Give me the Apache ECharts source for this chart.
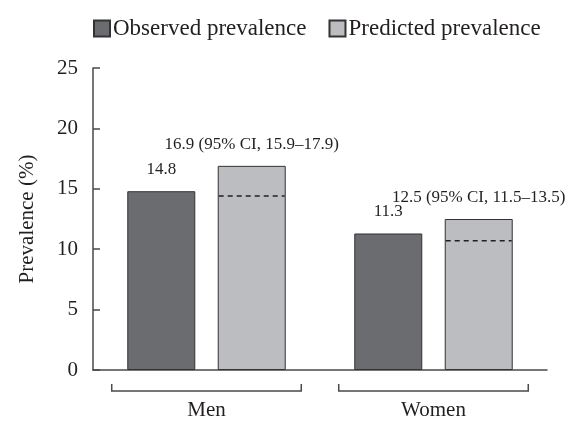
<!DOCTYPE html>
<html>
<head>
<meta charset="utf-8">
<script src="https://cdn.jsdelivr.net/npm/echarts@6/dist/echarts.min.js"></script>
<style>
  html, body { margin: 0; padding: 0; background: #fff; }
  #chart { width: 565px; height: 421px; }
</style>
</head>
<body>
<div id="chart"></div>
<script>
// 数据
var groups = ['Men', 'Women'];
var observed = [14.8, 11.3];
var predicted = [16.9, 12.5];
var ciLow = [15.9, 11.5];
var ciHigh = [17.9, 13.5];
var dashedRef = [14.4, 10.7];   // 预测柱内的虚线
var yTicks = [0, 5, 10, 15, 20, 25];

var FONT = '"Liberation Serif", "DejaVu Serif", serif';
var BAR_W = 68;
var BAR_GAP = 0.33;

var myChart = echarts.init(document.getElementById('chart'));

myChart.setOption({
    animation: false,
    textStyle: { fontFamily: FONT },
    grid: {
        left: 93,
        right: 18,
        top: 68,
        bottom: 50
    },
    legend: {
        left: 88,
        top: 12,
        itemWidth: 16,
        itemHeight: 16,
        itemGap: 22,
        icon: 'rect',
        textStyle: { fontFamily: FONT, fontSize: 23, color: '#231f20', padding: [0, 0, 0, -2] },
        data: ['Observed prevalence', 'Predicted prevalence']
    },
    xAxis: {
        type: 'category',
        data: groups,
        axisTick: { show: false },
        axisLine: { show: true, lineStyle: { color: '#4a4a4a', width: 1.5 } },
        axisLabel: { margin: 30, fontFamily: FONT, fontSize: 21, color: '#231f20' }
    },
    yAxis: {
        type: 'value',
        min: yTicks[0],
        max: yTicks[yTicks.length - 1],
        interval: 5,
        name: 'Prevalence (%)',
        nameLocation: 'middle',
        nameGap: 55,
        nameTextStyle: { fontFamily: FONT, fontSize: 21, color: '#231f20' },
        axisLine: { show: true, lineStyle: { color: '#4a4a4a', width: 1.5 } },
        axisTick: { show: true, inside: true, length: 7, lineStyle: { color: '#4a4a4a', width: 1.5 } },
        axisLabel: { margin: 15, fontFamily: FONT, fontSize: 21, color: '#231f20' },
        splitLine: { show: false }
    },
    series: [
        {
            name: 'Observed prevalence',
            type: 'bar',
            data: observed,
            barWidth: BAR_W,
            barGap: (BAR_GAP * 100) + '%',
            itemStyle: { color: '#6b6c70', borderColor: '#333', borderWidth: 1 },
            label: {
                show: true,
                position: 'top',
                distance: 13,
                fontFamily: FONT,
                fontSize: 17,
                color: '#231f20'
            }
        },
        {
            name: 'Predicted prevalence',
            type: 'bar',
            data: predicted,
            barWidth: BAR_W,
            barGap: (BAR_GAP * 100) + '%',
            itemStyle: { color: '#bcbdc1', borderColor: '#333', borderWidth: 1 },
            label: {
                show: true,
                position: 'top',
                distance: 13,
                fontFamily: FONT,
                fontSize: 17,
                color: '#231f20',
                formatter: function (p) {
                    var i = p.dataIndex;
                    return p.value + ' (95% CI, ' + ciLow[i] + '\u2013' + ciHigh[i] + ')';
                }
            }
        },
        {
            // 预测柱内虚线
            name: 'ref',
            type: 'custom',
            data: dashedRef.map(function (v, i) { return [i, v]; }),
            z: 5,
            renderItem: function (params, api) {
                var pt = api.coord([api.value(0), api.value(1)]);
                var gap = BAR_W * BAR_GAP;
                var x0 = pt[0] - (2 * BAR_W + gap) / 2 + BAR_W + gap;
                return {
                    type: 'line',
                    shape: { x1: x0 + 1, y1: pt[1], x2: x0 + BAR_W - 1, y2: pt[1] },
                    style: { stroke: '#231f20', lineWidth: 1.5, lineDash: [5, 4] }
                };
            }
        },
        {
            // 类目下方括号
            name: 'bracket',
            type: 'custom',
            data: groups.map(function (g, i) { return [i, 0]; }),
            clip: false,
            renderItem: function (params, api) {
                var pt = api.coord([api.value(0), 0]);
                var band = api.size([1, 0])[0];
                var half = band * 0.835 / 2;
                var y = pt[1] + 21;
                return {
                    type: 'polyline',
                    shape: { points: [[pt[0] - half, y - 7], [pt[0] - half, y], [pt[0] + half, y], [pt[0] + half, y - 7]] },
                    style: { stroke: '#4a4a4a', lineWidth: 1.5, fill: null }
                };
            }
        }
    ]
});
</script>
</body>
</html>
